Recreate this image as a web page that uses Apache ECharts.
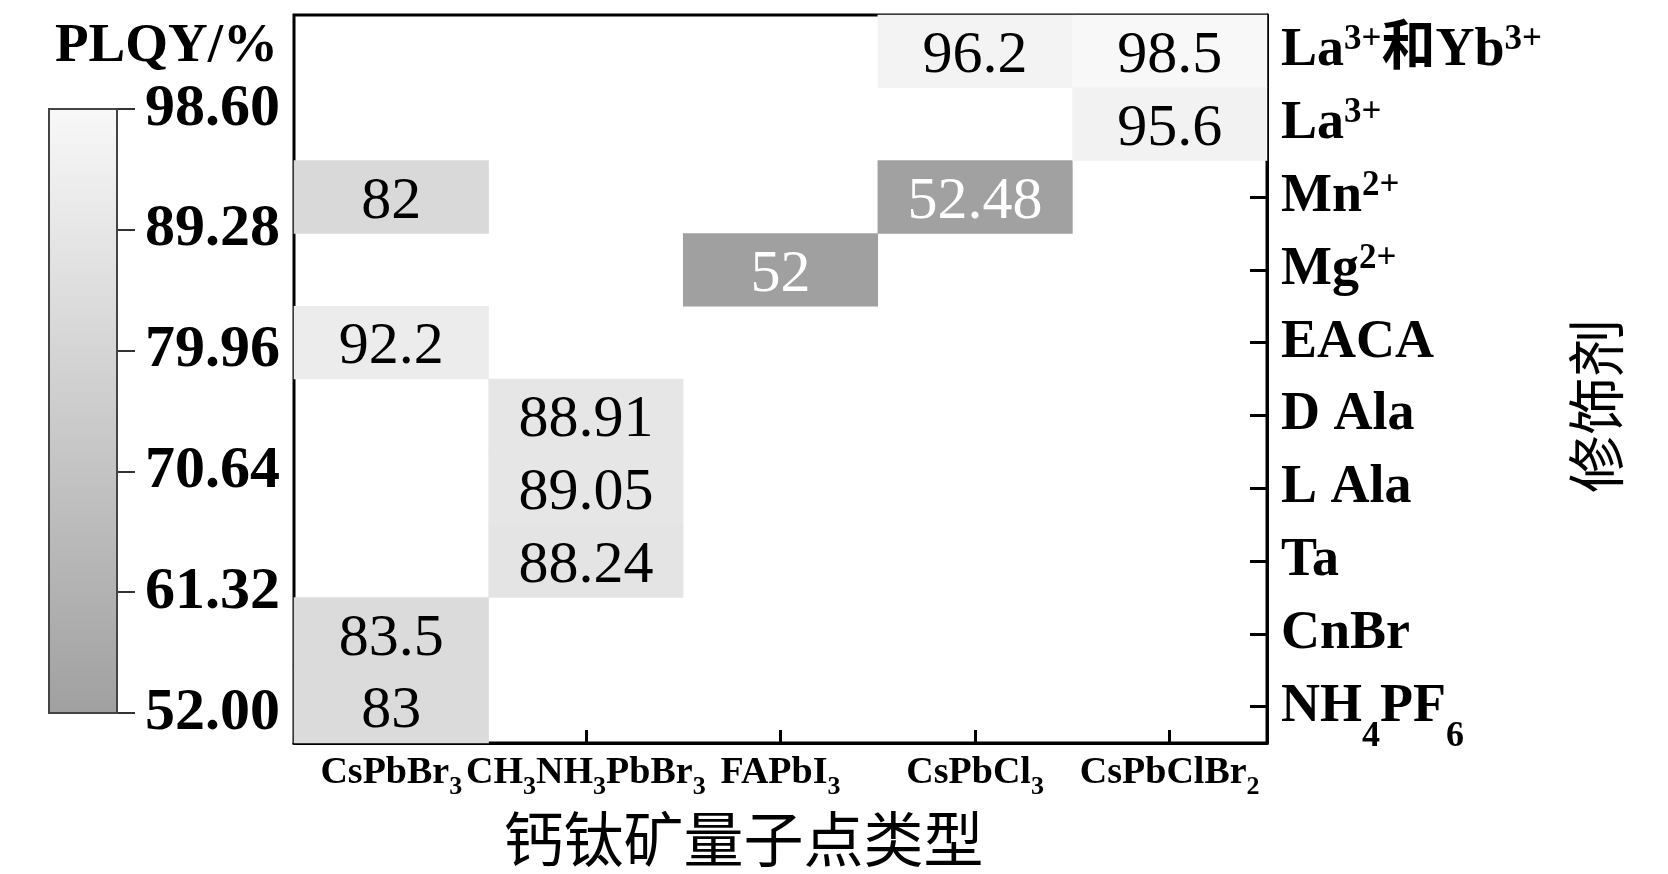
<!DOCTYPE html>
<html>
<head>
<meta charset="utf-8">
<script src="https://cdn.jsdelivr.net/npm/echarts@6/dist/echarts.min.js"></script>
<style>html,body{margin:0;padding:0;background:#fff;}#chart{width:1668px;height:874px;}</style>
</head>
<body>
<div id="chart"></div>
<script>
// ---- data ----
const dotTypes = ['CsPbBr3', 'CH3NH3PbBr3', 'FAPbI3', 'CsPbCl3', 'CsPbClBr2'];
const modifiers = ['La3+和Yb3+', 'La3+', 'Mn2+', 'Mg2+', 'EACA', 'D Ala', 'L Ala', 'Ta', 'CnBr', 'NH4PF6'];
// [dotType, modifier, PLQY %]
const cells = [
  ['CsPbBr3', 'Mn2+', 82],
  ['CsPbBr3', 'EACA', 92.2],
  ['CsPbBr3', 'CnBr', 83.5],
  ['CsPbBr3', 'NH4PF6', 83],
  ['CH3NH3PbBr3', 'D Ala', 88.91],
  ['CH3NH3PbBr3', 'L Ala', 89.05],
  ['CH3NH3PbBr3', 'Ta', 88.24],
  ['FAPbI3', 'Mg2+', 52],
  ['CsPbCl3', 'La3+和Yb3+', 96.2],
  ['CsPbCl3', 'Mn2+', 52.48],
  ['CsPbClBr2', 'La3+和Yb3+', 98.5],
  ['CsPbClBr2', 'La3+', 95.6]
];
const cbMin = 52.00;
const cbMax = 98.60;
const cbInterval = 9.32;
const grayRange = ['#a0a0a0', '#f8f8f8'];

// ---- helpers ----
const SERIF = "'Liberation Serif', 'Times New Roman', 'Noto Sans CJK SC', serif";
function toRich(s) {
  const re = /(\d\+)|(\d)|([^\d]+)/g;
  let out = '', m;
  while ((m = re.exec(s)) !== null) {
    if (m[1]) out += '{sup|' + m[1] + '}';
    else if (m[2]) out += '{sub|' + m[2] + '}';
    else out += '{b|' + m[3] + '}';
  }
  return out;
}

const chart = echarts.init(document.getElementById('chart'));
const heatData = cells.map(c => ({
  value: [c[0], c[1], c[2]],
  label: { color: c[2] < 60 ? '#ffffff' : '#000000' }
}));

const option = {
  backgroundColor: '#ffffff',
  animation: false,
  title: {
    text: 'PLQY/%',
    left: 50, top: 14,
    textStyle: { fontFamily: SERIF, fontWeight: 'bold', fontSize: 55, color: '#000' }
  },
  grid: [
    { left: 294, top: 15, width: 973, height: 728, show: true, borderColor: '#000', borderWidth: 3, backgroundColor: '#fff' },
    { left: 49, top: 109, width: 68, height: 604 }
  ],
  xAxis: [
    {
      type: 'category', gridIndex: 0, data: dotTypes, position: 'bottom',
      name: '钙钛矿量子点类型', nameLocation: 'middle', nameGap: 66,
      nameTextStyle: { fontFamily: "'Noto Sans CJK SC', sans-serif", fontSize: 60, color: '#000', padding: [0, 74, 0, 0] },
      axisLine: { show: true, lineStyle: { color: '#000', width: 3 } },
      axisTick: { show: true, inside: true, alignWithLabel: true, length: 13, lineStyle: { color: '#000', width: 3 } },
      axisLabel: {
        interval: 0, hideOverlap: false, margin: 10,
        formatter: v => toRich(v),
        rich: {
          b: { fontFamily: SERIF, fontWeight: 'bold', fontSize: 38, color: '#000', lineHeight: 40 },
          sub: { fontFamily: SERIF, fontWeight: 'bold', fontSize: 26, color: '#000', lineHeight: 26, padding: [28, 0, 0, 0] },
          sup: { fontFamily: SERIF, fontWeight: 'bold', fontSize: 26, color: '#000', lineHeight: 26, padding: [0, 0, 26, 0] }
        }
      },
      splitLine: { show: false }
    },
    { type: 'category', gridIndex: 1, data: ['bar'], show: false, boundaryGap: true }
  ],
  yAxis: [
    {
      type: 'category', gridIndex: 0, data: modifiers, inverse: true, position: 'right',
      name: '修饰剂', nameLocation: 'middle', nameGap: 300, nameRotate: 90,
      nameTextStyle: { fontFamily: "'Noto Sans CJK SC', sans-serif", fontSize: 58, color: '#000', padding: [0, 54, 0, 0] },
      axisLine: { show: true, lineStyle: { color: '#000', width: 3 } },
      axisTick: { show: true, inside: true, alignWithLabel: true, length: 17, lineStyle: { color: '#000', width: 3 } },
      axisLabel: {
        interval: 0, hideOverlap: false, margin: 14,
        formatter: v => toRich(v),
        rich: {
          b: { fontFamily: SERIF, fontWeight: 'bold', fontSize: 54, color: '#000', lineHeight: 56 },
          sub: { fontFamily: SERIF, fontWeight: 'bold', fontSize: 36, color: '#000', lineHeight: 36, padding: [60, 0, 0, 0] },
          sup: { fontFamily: SERIF, fontWeight: 'bold', fontSize: 35, color: '#000', lineHeight: 35, padding: [0, 0, 22, 0] }
        }
      },
      splitLine: { show: false }
    },
    {
      type: 'value', gridIndex: 1, position: 'right',
      min: cbMin, max: cbMax, interval: cbInterval,
      axisLine: { show: true, lineStyle: { color: '#333', width: 2 } },
      axisTick: { show: true, inside: false, length: 18, lineStyle: { color: '#333', width: 2 } },
      axisLabel: {
        margin: 28, color: '#000', fontFamily: SERIF, fontWeight: 'bold', fontSize: 60,
        formatter: v => Number(v).toFixed(2)
      },
      splitLine: { show: false }
    }
  ],
  visualMap: {
    type: 'continuous', show: false, seriesIndex: 0,
    min: cbMin, max: cbMax, inRange: { color: grayRange }
  },
  series: [
    {
      type: 'heatmap', xAxisIndex: 0, yAxisIndex: 0,
      data: heatData,
      itemStyle: { borderWidth: 0 },
      label: {
        show: true, fontFamily: SERIF, fontSize: 60, color: '#000', offset: [0, 5],
        formatter: p => String(p.value[2])
      },
      emphasis: { disabled: true }
    },
    {
      type: 'custom', xAxisIndex: 1, yAxisIndex: 1,
      data: [[0, cbMax]],
      renderItem: function (params, api) {
        const top = api.coord([0, cbMax]);
        const bot = api.coord([0, cbMin]);
        const w = api.size([1, 0])[0];
        return {
          type: 'rect',
          shape: { x: top[0] - w / 2, y: top[1], width: w, height: bot[1] - top[1] },
          style: {
            fill: new echarts.graphic.LinearGradient(0, 0, 0, 1, [
              { offset: 0, color: grayRange[1] },
              { offset: 1, color: grayRange[0] }
            ]),
            stroke: '#444', lineWidth: 2
          }
        };
      }
    }
  ]
};
chart.setOption(option);
</script>
</body>
</html>
